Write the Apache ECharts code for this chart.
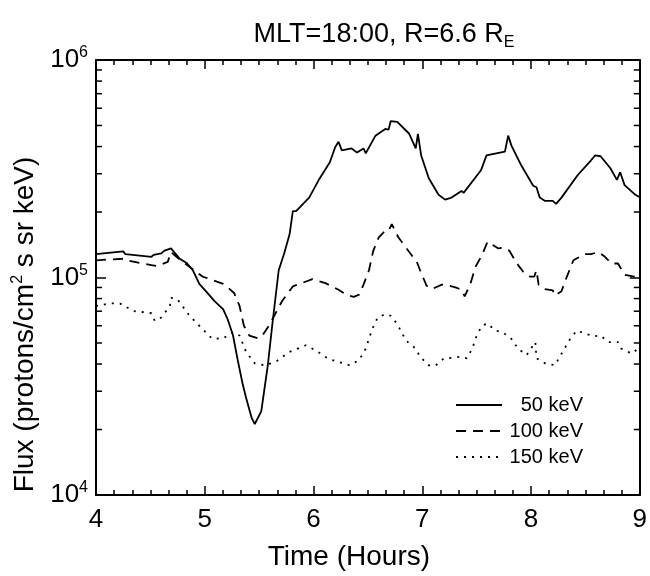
<!DOCTYPE html>
<html>
<head>
<meta charset="utf-8">
<script src="https://cdn.jsdelivr.net/npm/echarts@6/dist/echarts.min.js"></script>
<style>html,body{margin:0;padding:0;background:#fff}#c{width:650px;height:576px}</style>
</head>
<body>
<div id="c"></div>
<script>
var seriesNames = ['50 keV', '100 keV', '150 keV'];
var xTicks = [4, 5, 6, 7, 8, 9];
var yTickLabels = ['10^4', '10^5', '10^6'];

var t50 = [4.00,4.25,4.27,4.51,4.53,4.60,4.63,4.69,4.77,4.83,4.89,4.95,5.01,5.09,5.17,5.21,5.26,5.30,5.35,5.38,5.43,5.46,5.52,5.58,5.62,5.68,5.73,5.78,5.81,5.84,5.96,6.05,6.10,6.15,6.20,6.23,6.26,6.35,6.40,6.46,6.48,6.57,6.66,6.69,6.71,6.77,6.88,6.94,6.96,6.99,7.06,7.15,7.21,7.27,7.36,7.38,7.54,7.59,7.76,7.79,7.82,7.91,8.02,8.05,8.08,8.13,8.20,8.23,8.28,8.43,8.55,8.59,8.64,8.73,8.79,8.82,8.86,8.96,9.00];
var f50 = [128000,132000,128000,124500,127000,129000,133000,136000,122000,117000,108000,93500,86500,77800,71400,64400,54100,42500,32100,28000,22700,21200,24300,39500,60000,108000,129000,158000,202000,202000,233000,282000,309000,339000,398000,421000,384000,392000,376000,392000,372000,449000,482000,478000,524000,519000,458000,392000,458000,364000,286000,240000,228000,233000,250000,245000,311000,364000,379000,449000,404000,328000,264000,260000,233000,225000,225000,218000,233000,296000,345000,364000,361000,318000,281000,305000,266000,240000,234000];

var t100 = [4.00,4.25,4.28,4.51,4.56,4.66,4.69,4.74,4.86,4.98,5.17,5.20,5.27,5.32,5.36,5.41,5.49,5.53,5.59,5.71,5.81,5.99,6.11,6.23,6.30,6.37,6.42,6.46,6.51,6.55,6.60,6.66,6.69,6.72,6.78,6.88,6.95,6.98,7.04,7.09,7.18,7.22,7.32,7.36,7.39,7.44,7.49,7.55,7.60,7.70,7.74,7.80,7.87,7.93,7.99,8.03,8.05,8.07,8.13,8.20,8.22,8.28,8.33,8.39,8.49,8.55,8.62,8.68,8.74,8.80,8.86,8.95,9.00];
var f100 = [120000,122000,120000,114000,113000,118000,131000,124500,112000,101000,93500,91000,84900,74000,60000,54100,52500,54100,60000,77800,91000,98200,94200,87900,83400,81500,83400,92700,108000,133000,153000,164000,164000,176000,153000,131000,118000,108000,91600,88500,92700,92700,89500,88100,82000,92700,112000,127000,146000,136000,137000,133000,116000,106000,101000,101000,108000,92700,88500,87300,82600,86500,101000,120000,128000,128000,131000,124500,116000,116000,103000,101000,99000];

var t150 = [4.00,4.13,4.22,4.34,4.51,4.54,4.60,4.68,4.69,4.75,4.86,4.95,5.07,5.17,5.26,5.32,5.38,5.46,5.55,5.65,5.78,5.93,6.02,6.14,6.23,6.33,6.42,6.48,6.54,6.59,6.66,6.71,6.77,6.85,6.94,6.98,7.06,7.12,7.20,7.27,7.35,7.41,7.46,7.50,7.55,7.60,7.67,7.74,7.82,7.88,7.96,8.04,8.05,8.13,8.22,8.29,8.36,8.42,8.51,8.58,8.64,8.71,8.80,8.83,8.89,8.93,9.00];
var f150 = [74000,76000,76000,70200,68500,63200,65500,74000,80700,79300,66700,60000,52200,52600,56000,54100,45500,40300,39500,40900,45500,48800,46200,42200,40900,39500,41700,47100,57900,65500,67800,66700,61100,51300,47100,43200,39500,39300,42500,42700,43200,42500,47100,54100,60000,61500,57000,56000,52200,47100,44000,50500,42500,40300,39500,45500,52200,57000,55000,53700,54100,50500,50500,47100,45500,44700,47900];

var minorYValues = [];
[10000, 100000].forEach(function (d) { for (var k = 2; k <= 9; k++) minorYValues.push(k * d); });

function pairs(t, f) { return t.map(function (v, i) { return [v, f[i]]; }); }

var FONT = 'Liberation Sans, Arial, sans-serif';
var chart = echarts.init(document.getElementById('c'), null, { renderer: 'canvas' });

function tickSeries(side) {
  return {
    type: 'custom', silent: true, xAxisIndex: 0, yAxisIndex: 0, z: 5,
    data: minorYValues.map(function (v) { return [side === 'left' ? 4 : 9, v]; }),
    renderItem: function (params, api) {
      var p = api.coord([api.value(0), api.value(1)]);
      var dx = side === 'left' ? 6 : -6;
      return { type: 'line', shape: { x1: p[0], y1: p[1], x2: p[0] + dx, y2: p[1] }, style: { stroke: '#000', lineWidth: 1.5 } };
    }
  };
}

var axisCommon = {
  axisLine: { show: true, lineStyle: { color: '#000', width: 2 } },
  splitLine: { show: false }
};

chart.setOption({
  animation: false,
  backgroundColor: '#fff',
  title: {
    text: 'MLT=18:00, R=6.6 R{sub|E}',
    left: 379, top: 14, textAlign: 'center',
    textStyle: { fontFamily: FONT, fontSize: 27, fontWeight: 'normal', color: '#000',
      rich: { sub: { fontFamily: FONT, fontSize: 16, color: '#000', padding: [16, 0, 0, 0] } } }
  },
  grid: { left: 96, right: 8, top: 60, bottom: 74, containLabel: false },
  legend: {
    orient: 'vertical', left: 455, top: 395, padding: 0, itemWidth: 46, itemHeight: 14, itemGap: 6,
    itemStyle: { opacity: 0 },
    data: seriesNames,
    formatter: function (n) { return '{a|' + n + '}'; },
    textStyle: { fontFamily: FONT, fontSize: 20, color: '#000', rich: { a: { fontFamily: FONT, fontSize: 20, color: '#000', width: 76, align: 'right' } } }
  },
  xAxis: [
    Object.assign({
      type: 'value', min: 4, max: 9, interval: 1, position: 'bottom',
      axisTick: { show: true, inside: true, length: 9, lineStyle: { color: '#000', width: 1.5 } },
      minorTick: { show: true, splitNumber: 6, length: 5, lineStyle: { color: '#000', width: 1.5 } },
      axisLabel: { fontFamily: FONT, fontSize: 26, color: '#000', margin: 12,
        formatter: function (v) { return xTicks.indexOf(v) >= 0 ? String(v) : ''; } },
      name: 'Time (Hours)', nameLocation: 'middle', nameGap: 48,
      nameTextStyle: { fontFamily: FONT, fontSize: 28, color: '#000', padding: [0, 38, 0, 0] }
    }, axisCommon),
    Object.assign({
      type: 'value', min: 4, max: 9, interval: 1, position: 'top',
      axisTick: { show: true, inside: true, length: 9, lineStyle: { color: '#000', width: 1.5 } },
      minorTick: { show: true, splitNumber: 6, length: 5, lineStyle: { color: '#000', width: 1.5 } },
      axisLabel: { show: false }
    }, axisCommon)
  ],
  yAxis: [
    Object.assign({
      type: 'log', logBase: 10, min: 10000, max: 1000000, position: 'left',
      axisTick: { show: true, inside: true, length: 10, lineStyle: { color: '#000', width: 1.5 } },
      axisLabel: { fontFamily: FONT, fontSize: 26, color: '#000', margin: 8,
        formatter: function (v) { var e = Math.round(Math.log10(v)); var s = yTickLabels[e - 4]; return s ? '10{sup|' + e + '}' : ''; },
        rich: { sup: { fontFamily: FONT, fontSize: 16, color: '#000', padding: [0, 0, 14, 0] } } },
      name: 'Flux (protons/cm{sup|2} s sr keV)', nameLocation: 'middle', nameGap: 45, nameRotate: 90,
      nameTextStyle: { fontFamily: FONT, fontSize: 28, color: '#000', padding: [0, 94, 0, 0],
        rich: { sup: { fontFamily: FONT, fontSize: 16, color: '#000', padding: [0, 0, 15, 0] } } }
    }, axisCommon),
    Object.assign({
      type: 'log', logBase: 10, min: 10000, max: 1000000, position: 'right',
      axisTick: { show: true, inside: true, length: 10, lineStyle: { color: '#000', width: 1.5 } },
      axisLabel: { show: false }
    }, axisCommon)
  ],
  series: [
    { name: seriesNames[0], type: 'line', symbol: 'none', data: pairs(t50, f50), lineStyle: { color: '#000', width: 1.8, type: 'solid' }, itemStyle: { color: '#000' } },
    { name: seriesNames[1], type: 'line', symbol: 'none', data: pairs(t100, f100), lineStyle: { color: '#000', width: 1.8, type: [10, 7] }, itemStyle: { color: '#000' } },
    { name: seriesNames[2], type: 'line', symbol: 'none', data: pairs(t150, f150), lineStyle: { color: '#000', width: 1.8, type: [2, 6] }, itemStyle: { color: '#000' } },
    tickSeries('left'),
    tickSeries('right')
  ]
});
</script>
</body>
</html>
